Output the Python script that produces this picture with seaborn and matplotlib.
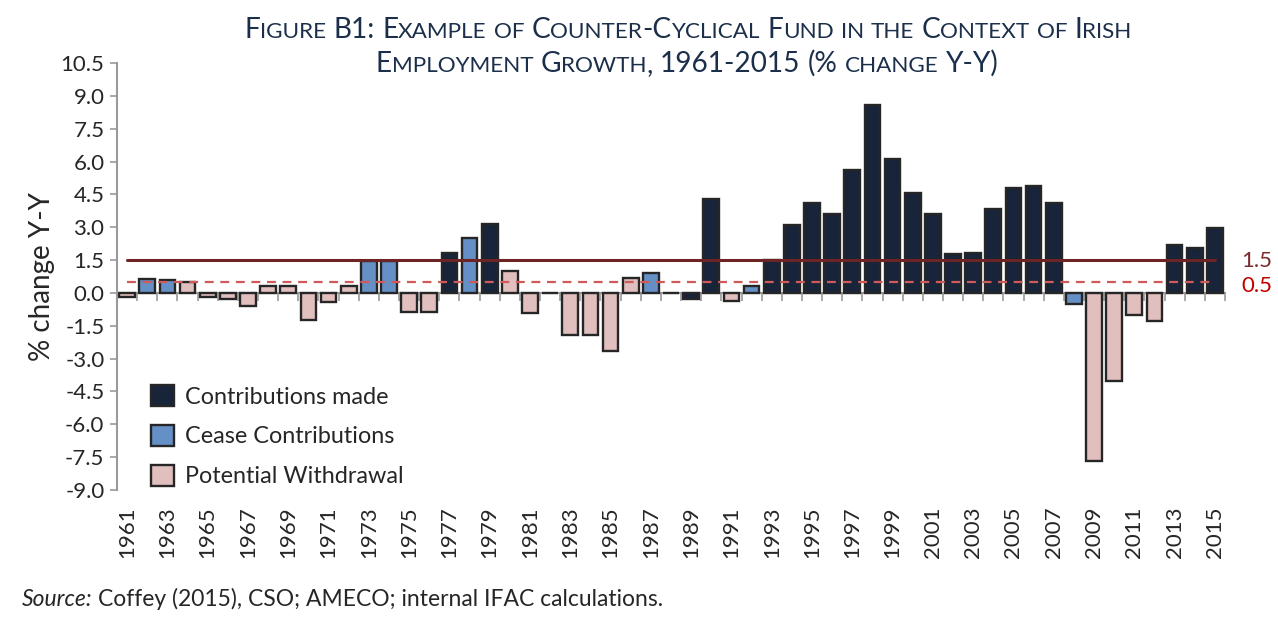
import matplotlib
matplotlib.use("Agg")
import matplotlib.pyplot as plt
import seaborn as sns
import pandas as pd
import numpy as np

# ---------------- data ----------------
years = list(range(1961, 2016))
values = [
    -0.20, 0.65, 0.58, 0.50, -0.20, -0.30, -0.60, 0.30, 0.30, -1.25,   # 1961-1970
    -0.40, 0.30, 1.45, 1.45, -0.87, -0.87, 1.83, 2.50, 3.15, 0.99,    # 1971-1980
    -0.90, 0.00, -1.94, -1.90, -2.66, 0.66, 0.90, 0.00, -0.28, 4.30,  # 1981-1990
    -0.36, 0.30, 1.50, 3.10, 4.09, 3.60, 5.62, 8.58, 6.13, 4.58,      # 1991-2000
    3.62, 1.77, 1.83, 3.85, 4.78, 4.87, 4.09, -0.50, -7.66, -4.03,    # 2001-2010
    -1.00, -1.29, 2.20, 2.03, 2.98,                                   # 2011-2015
]
C, B, P = "Contributions made", "Cease Contributions", "Potential Withdrawal"
status = [
    P, B, B, P, P, P, P, P, P, P,
    P, P, B, B, P, P, C, B, C, P,
    P, P, P, P, P, P, B, P, C, C,
    P, B, C, C, C, C, C, C, C, C,
    C, C, C, C, C, C, C, B, P, P,
    P, P, C, C, C,
]
categories = [C, B, P]
upper_threshold = 1.5
lower_threshold = 0.5
yticks = [-9.0, -7.5, -6.0, -4.5, -3.0, -1.5, 0.0, 1.5, 3.0, 4.5, 6.0, 7.5, 9.0, 10.5]

df = pd.DataFrame({"year": [str(y) for y in years], "value": values, "status": status})

# ---------------- style ----------------
sns.set_theme(style="white")
FONT = ["Lato", "DejaVu Sans"]
plt.rcParams["font.family"] = FONT
palette = {C: "#12233f", B: "#558ed5", P: "#e6b9b8"}
GREY = "#9a9a9a"

fig = plt.figure(figsize=(12.78, 6.17), dpi=100)
ax = fig.add_axes([117 / 1278, 1 - 490 / 617, (1225 - 117) / 1278, (490 - 63) / 617])

sns.barplot(data=df, x="year", y="value", hue="status", hue_order=categories,
            palette=palette, dodge=False, width=0.78, edgecolor="#262626",
            linewidth=1.7, ax=ax, legend=True)

# threshold lines drawn across the category positions
xs = np.arange(len(years))
ax.plot(xs, [upper_threshold] * len(xs), color="#6e2424", lw=2.2, zorder=5)
ax.plot(xs, [lower_threshold] * len(xs), color="#d05a5a", lw=1.6, ls=(0, (4, 3)), zorder=5)
ax.text(len(years) + 0.3, upper_threshold - 0.05, "1.5", color="#7a2a2a", fontsize=16,
        va="center", ha="left", family=FONT)
ax.text(len(years) + 0.3, lower_threshold - 0.2, "0.5", color="#c00000", fontsize=16,
        va="center", ha="left", family=FONT)

# axes
ax.set_xlim(-0.5, len(years) - 0.5)
ax.set_ylim(yticks[0], yticks[-1])
ax.set_yticks(yticks)
ax.set_yticklabels([f"{t:.1f}" for t in yticks], fontsize=16, family=FONT)
ax.tick_params(axis="y", direction="out", length=5, width=1.2, color=GREY, pad=4, left=True)
ax.set_ylabel("% change Y-Y", fontsize=20, family=FONT, labelpad=4)
ax.set_xlabel("")

for side in ["top", "right", "bottom"]:
    ax.spines[side].set_visible(False)
ax.spines["left"].set_color(GREY)
ax.spines["left"].set_linewidth(1.5)

ax.set_xticks(xs[::2])
ax.set_xticklabels([str(y) for y in years[::2]], rotation=90, fontsize=16, family=FONT)
ax.tick_params(axis="x", length=0, pad=12, bottom=True)

# zero axis with category-boundary ticks
zero_frac = (0 - yticks[0]) / (yticks[-1] - yticks[0])
sec = ax.secondary_xaxis(zero_frac)
sec.set_xticks(np.arange(-0.5, len(years), 1.0))
sec.set_xticklabels([])
sec.tick_params(direction="out", length=6, width=1.2, color=GREY)
sec.spines["bottom"].set_color(GREY)
sec.spines["bottom"].set_linewidth(1.5)
for s in ["top", "left", "right"]:
    sec.spines[s].set_visible(False)

# legend
handles, labels = ax.get_legend_handles_labels()
leg = ax.legend(handles, labels, loc="lower left", bbox_to_anchor=(0.018, -0.026),
                frameon=False, handlelength=1.0, handleheight=1.0,
                labelspacing=0.74, handletextpad=0.45, borderaxespad=0.2,
                prop={"family": FONT, "size": 16.8})
for h in leg.legend_handles:
    h.set_edgecolor("#262626")
    h.set_linewidth(1.7)


# small-caps title
def small_caps_line(text, center_x, baseline_y, size, ratio=0.8, color="#1b2f4b"):
    renderer = fig.canvas.get_renderer()
    runs = []
    for ch in text:
        if ch == " ":
            kind = "space"
        elif ch.islower():
            kind = "small"
        else:
            kind = "big"
        if runs and runs[-1][0] == kind:
            runs[-1][1] += ch
        else:
            runs.append([kind, ch])
    probe1 = fig.text(0, 0, "II", fontsize=size, family=FONT)
    probe2 = fig.text(0, 0, "I I", fontsize=size, family=FONT)
    space_w = (probe2.get_window_extent(renderer).width
               - probe1.get_window_extent(renderer).width)
    probe1.remove(); probe2.remove()
    items = []
    total = 0.0
    for kind, s in runs:
        if kind == "space":
            w = space_w * len(s)
            items.append((None, w))
        else:
            fs = size * ratio if kind == "small" else size
            t = fig.text(0, baseline_y / fig.bbox.height, s.upper(), fontsize=fs,
                         family=FONT, color=color, va="baseline", ha="left")
            w = t.get_window_extent(renderer).width
            items.append((t, w))
        total += w
    x = center_x - total / 2
    for t, w in items:
        if t is not None:
            t.set_x(x / fig.bbox.width)
        x += w


H = 617
small_caps_line("Figure B1: Example of Counter-Cyclical Fund in the Context of Irish",
                688, H - 38, 20.2)
small_caps_line("Employment Growth, 1961-2015 (% change Y-Y)", 687, H - 72, 20.2)

# source note
fig.text(22 / 1278, 1 - 606 / 617, "Source:", fontsize=16.5, style="italic", family=FONT)
src = fig.texts[-1]
renderer = fig.canvas.get_renderer()
w = src.get_window_extent(renderer).width
fig.text((22 + w + 5) / 1278, 1 - 606 / 617,
         "Coffey (2015), CSO; AMECO; internal IFAC calculations.", fontsize=16.5, family=FONT)

fig.savefig("out.png", dpi=100)
